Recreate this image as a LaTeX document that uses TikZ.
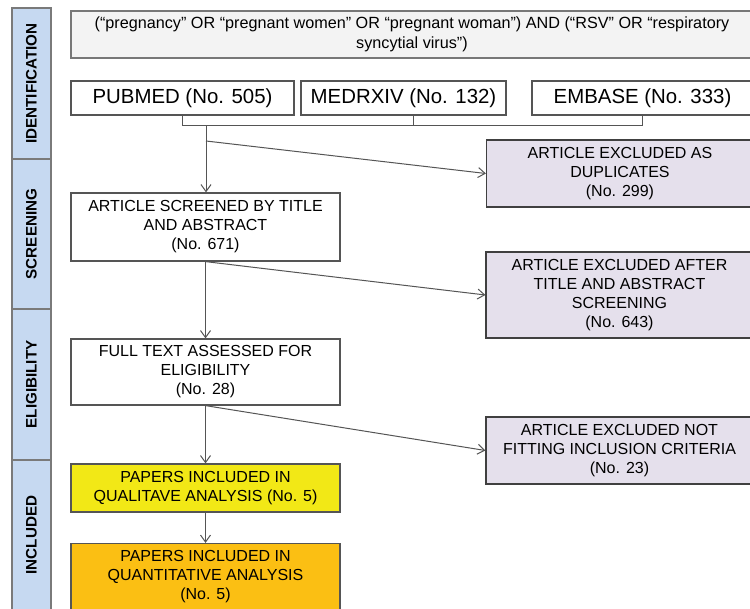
\documentclass[tikz,border=0pt]{standalone}
\usepackage{fontspec}
\setmainfont{Liberation Sans}
\usetikzlibrary{arrows.meta,calc}
\definecolor{sidefill}{HTML}{C6D9F1}
\definecolor{sideline}{HTML}{7A7A7A}
\definecolor{queryfill}{HTML}{F3F3F3}
\definecolor{boxline}{HTML}{555555}
\definecolor{exclfill}{HTML}{E5E0EC}
\definecolor{qualfill}{HTML}{F2E816}
\definecolor{quantfill}{HTML}{FBBF13}
\definecolor{arrowcol}{HTML}{555555}
\begin{document}
\begin{tikzpicture}[x=0.5pt,y=-0.5pt,
  basebox/.style={draw=boxline, line width=0.6pt, inner sep=0pt, align=center,
    font=\fontsize{8}{9.5}\selectfont, text=black},
  querybox/.style={basebox, fill=queryfill, draw=boxline!80, minimum width=341pt, minimum height=23.5pt,
    font=\fontsize{8.1}{10}\selectfont},
  srcbox/.style={basebox, fill=white, minimum height=17pt, font=\fontsize{10.2}{12}\selectfont},
  whitebox/.style={basebox, fill=white, minimum width=134.5pt},
  exclbox/.style={basebox, fill=exclfill, draw=black!75, minimum width=133.5pt},
  sidebox/.style={draw=sideline, line width=0.6pt, fill=sidefill, minimum width=19.5pt, inner sep=0pt},
  sidelabel/.style={rotate=90, font=\bfseries\fontsize{7.6}{8}\selectfont},
  conn/.style={draw=arrowcol, line width=0.5pt},
  arr/.style={conn, -{Straight Barb[length=3.5pt,width=5pt,line width=0.5pt]}}
]
\useasboundingbox (0,0) rectangle (750,609);
\clip (0,0) rectangle (750,609);
\fill[white] (0,0) rectangle (750,609);

% side bar
\node[sidebox, minimum height=75.5pt] (sid) at (31.5,83.5) {};
\node[sidebox, minimum height=75pt] (sscr) at (31.5,234) {};
\node[sidebox, minimum height=75.5pt] (selg) at (31.5,384.5) {};
\node[sidebox, minimum height=80pt] (sinc) at (31.5,540) {};
\node[sidelabel] (lid) at (sid.center) {IDENTIFICATION};
\node[sidelabel] (lscr) at (sscr.center) {SCREENING};
\node[sidelabel] (lelg) at (selg.center) {ELIGIBILITY};
\node[sidelabel] (linc) at (31.5,535) {INCLUDED};

% boxes
\node[querybox] (query) at (412,34.5) {(“pregnancy” OR “pregnant women” OR “pregnant woman”) AND (“RSV” OR “respiratory\\syncytial virus”)};
\node[srcbox, minimum width=111.5pt] (pubmed) at (182.5,98) {PUBMED (No. 505)};
\node[srcbox, minimum width=102.5pt] (medrxiv) at (403.5,98) {MEDRXIV (No. 132)};
\node[srcbox, minimum width=110.5pt] (embase) at (642.5,98) {EMBASE (No. 333)};
\node[exclbox, minimum height=33.5pt] (dup) at (620,173.5) {ARTICLE EXCLUDED AS\\DUPLICATES\\(No. 299)};
\node[whitebox, minimum height=34pt] (screened) at (205.5,227) {ARTICLE SCREENED BY TITLE\\AND ABSTRACT\\(No. 671)};
\node[exclbox, minimum height=43pt] (excl2) at (619.5,295) {ARTICLE EXCLUDED AFTER\\TITLE AND ABSTRACT\\SCREENING\\(No. 643)};
\node[whitebox, minimum height=33pt] (elig) at (205.5,372) {FULL TEXT ASSESSED FOR\\ELIGIBILITY\\(No. 28)};
\node[exclbox, minimum height=33.5pt] (excl3) at (619.5,450.5) {ARTICLE EXCLUDED NOT\\FITTING INCLUSION CRITERIA\\(No. 23)};
\node[whitebox, fill=qualfill, minimum height=24pt] (qual) at (205.5,488) {PAPERS INCLUDED IN\\QUALITAVE ANALYSIS (No. 5)};
\node[whitebox, fill=quantfill, minimum height=33pt] (quant) at (205.5,576.5) {PAPERS INCLUDED IN\\QUANTITATIVE ANALYSIS\\(No. 5)};

% connectors
\coordinate (jl) at (pubmed.south |- 0,126);
\coordinate (jr) at (embase.south |- 0,126);
\coordinate (jm) at (413,126);
\coordinate (jd) at (206,126);
\coordinate (b1) at (206,141);
\draw[conn] (pubmed.south) -- (jl) -- (jr) -- (embase.south);
\draw[conn] (jm) -- (jm |- medrxiv.south);
\draw[arr] (jd) -- (jd |- screened.north);
\draw[arr] (b1) -- (dup.west);
\draw[arr] (screened.south) -- (elig.north);
\draw[arr] (screened.south) -- (excl2.west);
\draw[arr] (elig.south) -- (qual.north);
\draw[arr] (elig.south) -- (excl3.west);
\draw[arr] (qual.south) -- (quant.north);
\end{tikzpicture}
\end{document}
